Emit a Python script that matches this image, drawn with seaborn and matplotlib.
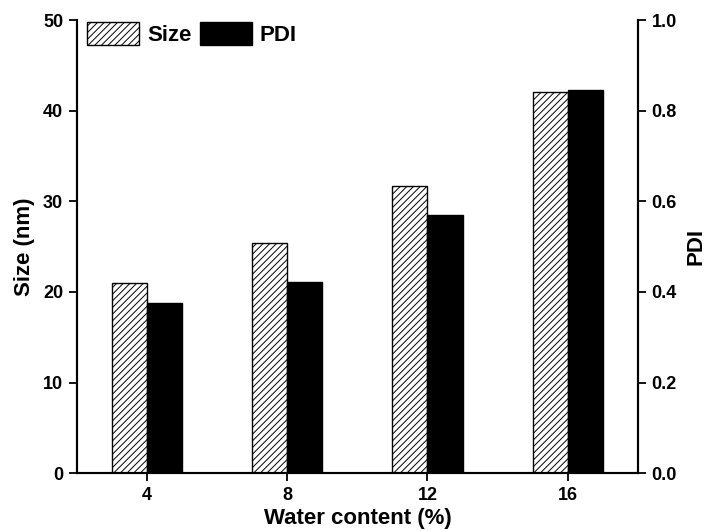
import numpy as np
import matplotlib
matplotlib.use("Agg")
import matplotlib.pyplot as plt
import seaborn as sns

# ── data ──────────────────────────────────────────────────────────────────────
water = [4, 8, 12, 16]
size_nm = [21.0, 25.4, 31.7, 42.1]
pdi = [0.375, 0.422, 0.570, 0.845]

# ── style ─────────────────────────────────────────────────────────────────────
sns.set_style("ticks")
plt.rcParams["font.family"] = ["Liberation Sans", "DejaVu Sans"]
plt.rcParams["font.weight"] = "bold"
plt.rcParams["hatch.linewidth"] = 0.7
for k in ("text.color", "axes.labelcolor", "xtick.color", "ytick.color", "axes.edgecolor"):
    plt.rcParams[k] = "black"

fig = plt.figure(figsize=(7.07, 5.31), dpi=100)
ax = fig.add_axes([0.109, 0.109, 0.793, 0.853])
ax2 = ax.twinx()

x = np.array(water, dtype=float)
b1 = ax.bar(x - 0.5, size_nm, width=1.0, color="white", edgecolor="black",
            hatch="/////", linewidth=1.0, label="Size")
b2 = ax2.bar(x + 0.5, pdi, width=1.0, color="black", edgecolor="black",
             linewidth=1.0, label="PDI")

ax.set_xlim(2, 18)
ax.set_ylim(0, 50)
ax2.set_ylim(0, 1.0)
ax.set_xticks(water)
ax.set_yticks(np.arange(0, 51, 10))
ax2.set_yticks(np.arange(0, 1.01, 0.2))
ax2.set_yticklabels([f"{v:.1f}" for v in np.arange(0, 1.01, 0.2)])

for a in (ax, ax2):
    a.spines["top"].set_visible(False)
    for s in a.spines.values():
        s.set_linewidth(1.5)
    a.tick_params(direction="out", length=6, width=1.3, labelsize=13, pad=4)
    for lab in a.get_xticklabels() + a.get_yticklabels():
        lab.set_fontweight("bold")

ax.set_xlabel("Water content (%)", fontsize=16, fontweight="bold", labelpad=3)
ax.set_ylabel("Size (nm)", fontsize=16, fontweight="bold", labelpad=6)
ax2.set_ylabel("PDI", fontsize=16, fontweight="bold", labelpad=6)

ax.legend(handles=[b1, b2], loc="upper left", ncol=2, frameon=False,
          bbox_to_anchor=(0.018, 0.995), borderpad=0, borderaxespad=0,
          handlelength=2.35, handleheight=1.17,
          columnspacing=0.36, handletextpad=0.36,
          prop={"weight": "bold", "size": 16})

fig.savefig("out.png", dpi=100)
